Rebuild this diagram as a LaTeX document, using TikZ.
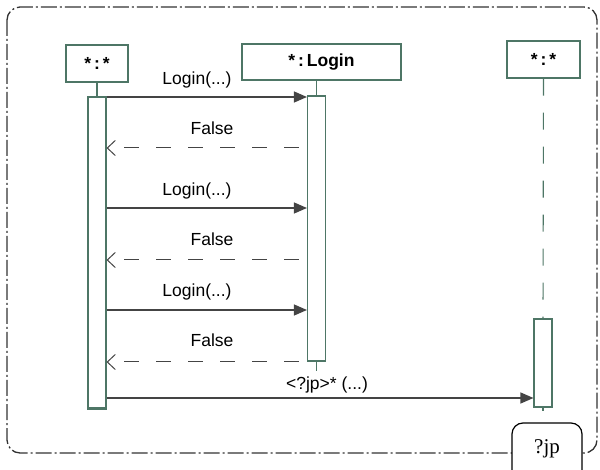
\documentclass[tikz,border=0pt]{standalone}
\usepackage{fontspec}
\setmainfont{Liberation Sans}
\newfontfamily\seriffont{Liberation Serif}
\usetikzlibrary{arrows.meta}

\definecolor{boxline}{RGB}{78,118,102}
\definecolor{msgline}{RGB}{68,68,68}
\definecolor{framec}{RGB}{50,50,50}

\tikzset{
  objbox/.style={draw=boxline, line width=1.2pt, fill=white, inner sep=0pt,
                 font=\fontsize{17.5}{20}\selectfont\bfseries},
  actbar/.style={draw=boxline, line width=1.1pt, fill=white, minimum width=18pt, inner sep=0pt},
  stub/.style={draw=boxline, line width=1.1pt},
  lifeline/.style={draw=boxline, line width=1.1pt, dash pattern=on 17pt off 17pt},
  callmsg/.style={draw=msgline, line width=1.2pt, -{Triangle[length=13pt,width=11pt]}},
  replymsg/.style={draw=msgline, line width=1pt, dash pattern=on 15pt off 17pt,
                   -{Straight Barb[length=8pt,width=15pt,line width=1pt]}},
  msglabel/.style={inner sep=0pt, font=\fontsize{17.5}{20}\selectfont},
  framebox/.style={draw=framec, line width=1.3pt, dash pattern=on 16pt off 3pt on 2pt off 3pt,
                   rounded corners=13pt},
  tagbox/.style={draw=black, line width=1.2pt, fill=white, rounded corners=11pt,
                 minimum width=70pt, minimum height=60pt, inner sep=0pt,
                 font=\seriffont\fontsize{21}{24}\selectfont}
}

\begin{document}
\begin{tikzpicture}[x=1pt,y=-1pt]
  \clip (0,0) rectangle (600,470);

  % enclosing frame
  \draw[framebox] (7,7) rectangle (597,453);

  % object boxes
  \node[objbox, minimum width=62pt, minimum height=37pt] (objA) at (97,63.5) {*\,:\,*};
  \node[objbox, minimum width=159pt, minimum height=36pt] (objB) at (321.5,62) {*\,:\,Login};
  \node[objbox, minimum width=73pt, minimum height=37pt] (objC) at (543.5,59.5) {*\,:\,*};

  % activation bars
  \node[actbar, minimum height=311pt] (actA) at (97,252.5) {};
  \node[actbar, minimum height=265pt] (actB) at (316.5,228.5) {};
  \node[actbar, minimum height=88pt] (actC) at (543,363) {};
  \draw[boxline, line width=2.6pt] (actA.south west) -- (actA.south east);

  % lifelines
  \draw[stub] (objA.south) -- (objA.south |- actA.north);
  \draw[stub] (actB.north) -- (actB.north |- objB.south);
  \draw[lifeline] (objC.south) -- (actC.north);
  \draw[stub] (actB.south) -- ++(0,9);
  \draw[stub] (actC.south) -- ++(0,3);

  % message rows
  \coordinate (r1) at (0,97);
  \coordinate (r2) at (0,148);
  \coordinate (r3) at (0,208);
  \coordinate (r4) at (0,260);
  \coordinate (r5) at (0,310);
  \coordinate (r6) at (0,362);
  \coordinate (r7) at (0,398);

  % messages
  \draw[callmsg] (actA.east |- r1) -- (actB.west |- r1);
  \draw[replymsg] ([xshift=-8pt]actB.west |- r2) -- (actA.east |- r2);
  \draw[callmsg] (actA.east |- r3) -- (actB.west |- r3);
  \draw[replymsg] ([xshift=-8pt]actB.west |- r4) -- (actA.east |- r4);
  \draw[callmsg] (actA.east |- r5) -- (actB.west |- r5);
  \draw[replymsg] ([xshift=-8pt]actB.west |- r6) -- (actA.east |- r6);
  \draw[callmsg] (actA.east |- r7) -- (actC.west |- r7);

  % message labels
  \node[msglabel] (m1) at (197,80) {Login(...)};
  \node[msglabel] (m2) at (212,128) {False};
  \node[msglabel] (m3) at (197,191) {Login(...)};
  \node[msglabel] (m4) at (212,239) {False};
  \node[msglabel] (m5) at (197,292) {Login(...)};
  \node[msglabel] (m6) at (212,340) {False};
  \node[msglabel] (m7) at (327,385) {<?jp>* (...)};

  % frame tag
  \node[tagbox] (tag) at (547,453) {};
  \node[inner sep=0pt, font=\seriffont\fontsize{21}{24}\selectfont] (tagtext) at (547,449) {?jp};
\end{tikzpicture}
\end{document}
